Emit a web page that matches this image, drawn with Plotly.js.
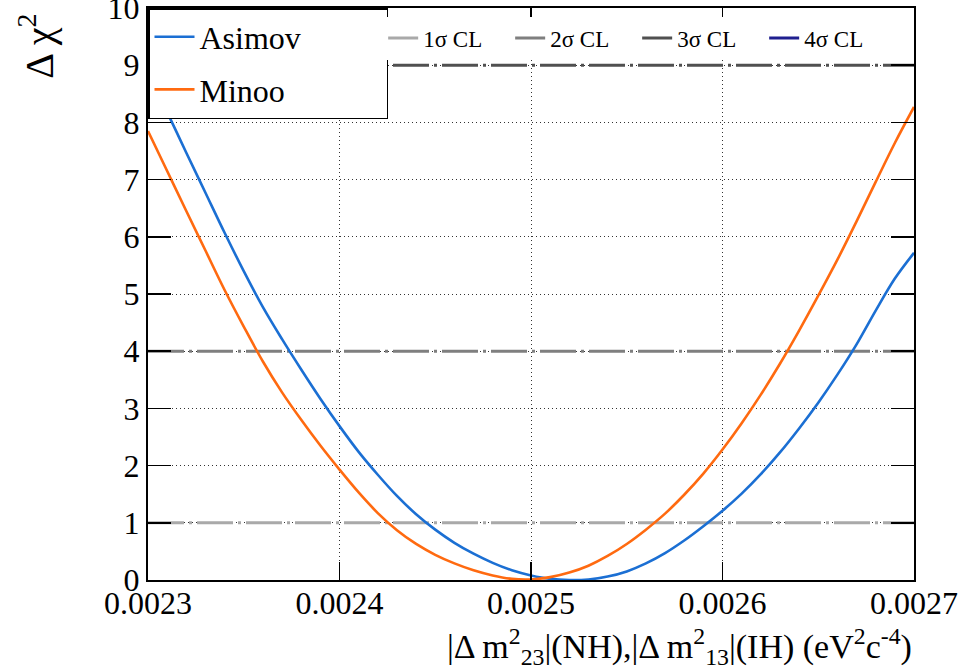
<!DOCTYPE html>
<html>
<head>
<meta charset="utf-8">
<script src="https://cdn.plot.ly/plotly-3.0.1.min.js"></script>
<style>
  html, body { margin: 0; padding: 0; background: #ffffff; }
  #chart { width: 966px; height: 671px; }
</style>
</head>
<body>
<div id="chart"></div>
<script>
// ---- data ----
var dm2 = [0.00230, 0.00231, 0.00232, 0.00233, 0.00234, 0.00235, 0.00236, 0.00237, 0.00238, 0.00239,
           0.00240, 0.00241, 0.00242, 0.00243, 0.00244, 0.00245, 0.00246, 0.00247, 0.00248, 0.00249,
           0.00250, 0.00251, 0.00252, 0.00253, 0.00254, 0.00255, 0.00256, 0.00257, 0.00258, 0.00259,
           0.00260, 0.00261, 0.00262, 0.00263, 0.00264, 0.00265, 0.00266, 0.00267, 0.00268, 0.00269,
           0.00270];

var asimovChi2 = [8.88, 8.18, 7.47, 6.77, 6.07, 5.40, 4.77, 4.21, 3.68, 3.17,
                  2.69, 2.24, 1.84, 1.47, 1.15, 0.88, 0.65, 0.46, 0.30, 0.17,
                  0.08, 0.02, 0.00, 0.01, 0.06, 0.15, 0.29, 0.47, 0.69, 0.94,
                  1.21, 1.51, 1.85, 2.23, 2.65, 3.10, 3.59, 4.12, 4.71, 5.27,
                  5.72];

var minooChi2 = [7.85, 7.15, 6.45, 5.76, 5.07, 4.43, 3.82, 3.28, 2.80, 2.35,
                 1.93, 1.53, 1.17, 0.87, 0.63, 0.44, 0.29, 0.17, 0.08, 0.02,
                 0.01, 0.05, 0.13, 0.25, 0.42, 0.63, 0.88, 1.16, 1.49, 1.86,
                 2.28, 2.74, 3.24, 3.78, 4.36, 4.97, 5.60, 6.27, 6.96, 7.64,
                 8.27];

var clLevels = [1, 4, 9, 16];
var clNames  = ['1\u03c3 CL', '2\u03c3 CL', '3\u03c3 CL', '4\u03c3 CL'];
var clColors = ['#a9a9a9', '#7f7f7f', '#505050', '#1f1f8f'];

var xTickVals = [0.0023, 0.0024, 0.0025, 0.0026, 0.0027];
var xTickText = ['0.0023', '0.0024', '0.0025', '0.0026', '0.0027'];

// ---- traces ----
var FONT = "'Liberation Serif', 'DejaVu Serif', serif";
var pad = '\u00a0\u00a0\u00a0\u00a0\u00a0\u00a0\u00a0\u00a0\u00a0\u00a0';
var traces = [];
var xEnds = [dm2[0], dm2[dm2.length - 1]];

clLevels.forEach(function (lv, i) {
  traces.push({
    x: xEnds, y: [lv, lv],
    type: 'scatter', mode: 'lines',
    name: clNames[i],
    legend: 'legend2',
    line: { color: clColors[i], width: 3, dash: '36px,5px,3px,5px' },
    hoverinfo: 'skip'
  });
});

traces.push({
  x: dm2, y: asimovChi2, type: 'scatter', mode: 'lines',
  name: 'Asimov' + pad, legendgroup: 'a',
  line: { color: '#1b6fd3', width: 2.6, shape: 'spline', smoothing: 1.0 }
});
traces.push({
  x: dm2, y: minooChi2, type: 'scatter', mode: 'lines',
  name: 'Minoo' + pad, legendgroup: 'b',
  line: { color: '#ff6a10', width: 2.6, shape: 'spline', smoothing: 1.0 }
});

var layout = {
  width: 966, height: 671,
  margin: { l: 148, r: 52, t: 8, b: 91 },
  paper_bgcolor: '#ffffff', plot_bgcolor: '#ffffff',
  font: { family: FONT, color: '#000000', size: 31 },
  showlegend: true,
  xaxis: {
    range: [0.0023, 0.0027],
    tickmode: 'array', tickvals: xTickVals, ticktext: xTickText,
    ticks: 'inside', ticklen: 18, tickwidth: 1.5, tickcolor: '#000',
    showline: true, linewidth: 2, linecolor: '#000', mirror: 'ticks',
    showgrid: true, gridcolor: '#333', gridwidth: 1, griddash: '1px,3px',
    zeroline: false, ticklabeloverflow: 'allow', ticklabelstandoff: -6,
    tickfont: { family: FONT, size: 32, color: '#000' }
  },
  yaxis: {
    range: [0, 10],
    tickmode: 'linear', tick0: 0, dtick: 1,
    ticks: 'inside', ticklen: 23, tickwidth: 1.5, tickcolor: '#000',
    showline: true, linewidth: 2, linecolor: '#000', mirror: 'ticks',
    showgrid: true, gridcolor: '#333', gridwidth: 1, griddash: '1px,3px',
    zeroline: false, ticklabeloverflow: 'allow',
    tickfont: { family: FONT, size: 32, color: '#000' }
  },
  legend: {
    x: 0, y: 1, xanchor: 'left', yanchor: 'top',
    bgcolor: '#ffffff', bordercolor: '#000', borderwidth: 1.5,
    font: { family: FONT, size: 32, color: '#000' },
    itemwidth: 40, traceorder: 'grouped', tracegroupgap: 8
  },
  legend2: {
    orientation: 'h',
    x: 0.307, y: 0.985, xanchor: 'left', yanchor: 'top',
    bgcolor: '#ffffff', borderwidth: 0,
    font: { family: FONT, size: 23, color: '#000' },
    itemwidth: 30, entrywidth: 82, entrywidthmode: 'pixels'
  },
  annotations: [
    {
      xref: 'paper', yref: 'paper', x: -0.145, y: 0.994,
      xanchor: 'center', yanchor: 'top', textangle: -90, showarrow: false,
      text: '\u0394 \u03c7<sup>2</sup>',
      font: { family: FONT, size: 40, color: '#000' }
    },
    {
      xref: 'paper', yref: 'paper', x: 1.0, y: -0.117,
      xanchor: 'right', yanchor: 'middle', showarrow: false,
      text: '|\u0394 m<sup>2</sup><sub>23</sub>|(NH),|\u0394 m<sup>2</sup><sub>13</sub>|(IH) (eV<sup>2</sup>c<sup>-4</sup>)',
      font: { family: FONT, size: 34, color: '#000' }
    }
  ]
};

Plotly.newPlot('chart', traces, layout, { displayModeBar: false, staticPlot: true });
</script>
</body>
</html>
